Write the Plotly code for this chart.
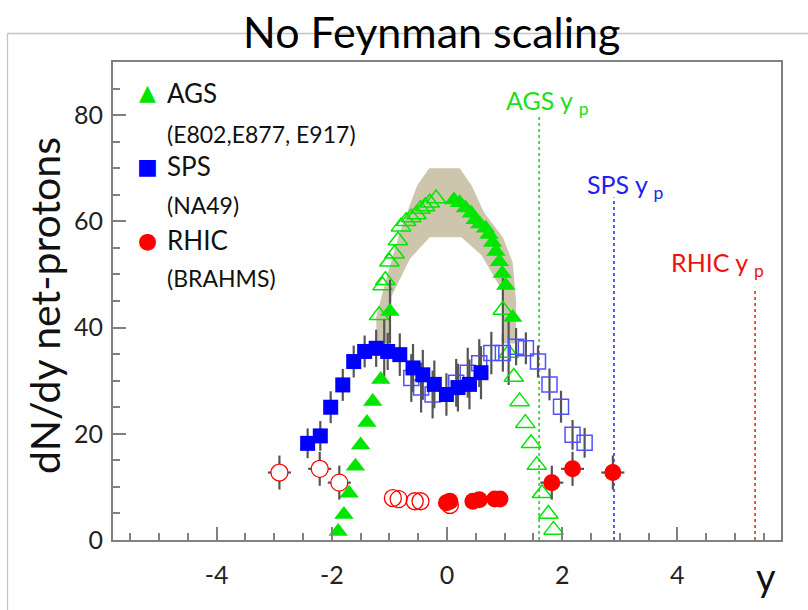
import plotly.graph_objects as go

# ---------------- data ----------------
# AGS (E802, E877, E917) net-proton dN/dy
ags_filled_x = [-1.89, -1.79, -1.70, -1.59, -1.50, -1.39, -1.29, -1.15, -1.09, -0.99,
                0.12, 0.22, 0.32, 0.42, 0.49, 0.57, 0.67, 0.73, 0.79, 0.85, 0.91, 0.96, 1.02, 1.14]
ags_filled_y = [1.6, 4.8, 8.8, 13.9, 17.9, 22.1, 26.1, 30.2, 35.5, 43.0,
                64.0, 63.5, 62.5, 61.5, 60.3, 59.5, 58.7, 57.5, 56.0, 54.3, 52.4, 50.2, 47.9, 41.9]
ags_filled_err = [0, 0, 0, 0, 0, 0, 0, 0, 6.0, 6.0,
                  0, 0, 0, 0, 0, 0, 0, 0, 0, 0, 0, 0, 0, 0]

ags_open_x = [-1.18, -1.12, -1.07, -1.00, -0.91, -0.85, -0.80, -0.71, -0.62, -0.53, -0.46, -0.38, -0.30, -0.19,
              0.97, 1.07, 1.16, 1.26, 1.36, 1.46, 1.56, 1.65, 1.76, 1.85]
ags_open_y = [42.3, 47.9, 48.9, 52.4, 53.9, 56.4, 59.0, 60.0, 60.7, 61.3, 62.3, 62.8, 63.5, 64.3,
              43.3, 35.2, 30.7, 26.1, 22.0, 18.2, 14.1, 8.8, 4.9, 1.9]
ags_open_err = [0, 0, 0, 0, 0, 0, 0, 0, 0, 0, 0, 0, 0, 0,
                6.0, 6.0, 0, 0, 0, 0, 0, 0, 0, 0]

# AGS systematic band (outline)
band_x = [-1.22, -1.23, -1.02, -0.82, -0.52, -0.31, 0.22, 0.43, 0.64, 0.97, 1.14, 1.20, 1.20,
          0.97, 0.97, 0.60, 0.25, -0.30, -0.64, -0.96, -1.00, -1.22]
band_y = [37.0, 42.0, 50.5, 58.0, 66.7, 70.0, 70.0, 66.7, 61.7, 57.0, 52.3, 45.0, 37.0,
          37.0, 46.7, 53.6, 57.0, 57.0, 53.0, 46.0, 37.0, 37.0]

# SPS (NA49)
sps_filled_x = [-2.42, -2.20, -2.02, -1.81, -1.62, -1.43, -1.23, -1.03, -0.82, -0.59, -0.42, -0.22,
                -0.01, 0.19, 0.39, 0.59]
sps_filled_y = [18.2, 19.6, 25.0, 29.2, 33.6, 35.5, 36.1, 35.5, 34.9, 32.4, 31.1, 29.3,
                27.4, 28.7, 29.3, 31.5]
sps_filled_err = [2.8, 2.8, 3.0, 3.0, 3.0, 3.0, 3.5, 3.5, 4.0, 4.5, 4.7, 4.5,
                  4.0, 4.5, 4.7, 5.0]

sps_open_x = [-0.62, -0.45, -0.25, 0.16, 0.36, 0.56, 0.77, 0.97, 1.20, 1.37, 1.58, 1.78, 1.98, 2.18, 2.39]
sps_open_y = [30.5, 28.7, 27.4, 29.6, 31.5, 33.3, 35.2, 35.2, 36.4, 36.1, 33.6, 29.3, 25.1, 19.8, 18.3]
sps_open_err = [4.5, 4.7, 4.5, 4.5, 4.7, 4.5, 4.0, 3.5, 3.5, 3.0, 3.0, 3.0, 3.0, 2.8, 2.8]

# RHIC (BRAHMS)
rhic_filled_x = [-0.01, 0.05, 0.45, 0.56, 0.83, 0.92, 1.82, 2.18, 2.88]
rhic_filled_y = [7.0, 7.3, 7.3, 7.6, 7.7, 7.7, 10.8, 13.4, 12.7]
rhic_filled_err = [1.0, 1.0, 1.0, 1.0, 1.0, 1.0, 3.2, 3.2, 3.2]
rhic_filled_xerr = [0, 0, 0, 0, 0, 0, 0.2, 0.2, 0.2]

rhic_open_x = [-2.91, -2.21, -1.87, -0.94, -0.84, -0.56, -0.46, 0.05]
rhic_open_y = [12.7, 13.4, 10.8, 7.9, 7.7, 7.3, 7.3, 6.6]
rhic_open_err = [3.2, 3.2, 3.2, 0, 0, 0, 0, 0]
rhic_open_xerr = [0.2, 0.2, 0.2, 0, 0, 0, 0, 0]

# beam rapidities
beam_names = ["AGS", "SPS", "RHIC"]
beam_y = [1.6, 2.9, 5.35]
beam_line_top = [80.0, 64.5, 47.5]

x_tick_vals = [-4, -2, 0, 2, 4]
y_tick_vals = [0, 20, 40, 60, 80]

# ---------------- styling ----------------
GREEN = "#00e600"
BLUE = "#0000ff"
BLUE_OPEN = "#5050ff"
RED = "#ff0000"
ERR = "#555555"
FONT = "Lato"

W, H = 808, 610
ML, MR, MT, MB = 113, 27, 62, 70
PW, PH = W - ML - MR, H - MT - MB


def PX(px):
    return (px - ML) / PW


def PY(py):
    return (H - MB - py) / PH


fig = go.Figure()

# band
fig.add_trace(go.Scatter(x=band_x, y=band_y, fill="toself", mode="lines",
                         line=dict(width=0, color="rgba(0,0,0,0)"),
                         fillcolor="#cec5ad", hoverinfo="skip", showlegend=False))


def err(arr, show=True):
    return dict(type="data", array=arr, visible=show, color=ERR, thickness=2.2, width=0)


# AGS
fig.add_trace(go.Scatter(x=ags_open_x, y=ags_open_y, mode="markers",
                         error_y=err(ags_open_err),
                         marker=dict(symbol="triangle-up-open", size=17, color=GREEN,
                                     line=dict(width=1.5, color=GREEN)),
                         showlegend=False))
fig.add_trace(go.Scatter(x=ags_filled_x, y=ags_filled_y, mode="markers",
                         error_y=err(ags_filled_err),
                         marker=dict(symbol="triangle-up", size=17, color=GREEN,
                                     line=dict(width=0)),
                         showlegend=False))

# SPS
fig.add_trace(go.Scatter(x=sps_open_x, y=sps_open_y, mode="markers",
                         error_y=err(sps_open_err),
                         marker=dict(symbol="square-open", size=15, color=BLUE_OPEN,
                                     line=dict(width=1.5, color=BLUE_OPEN)),
                         showlegend=False))
fig.add_trace(go.Scatter(x=sps_filled_x, y=sps_filled_y, mode="markers",
                         error_y=err(sps_filled_err),
                         marker=dict(symbol="square", size=15, color=BLUE, line=dict(width=0)),
                         showlegend=False))

# RHIC
open_fill = ["white" if e > 0 else "rgba(255,255,255,0)" for e in rhic_open_err]
fig.add_trace(go.Scatter(x=rhic_open_x, y=rhic_open_y, mode="markers",
                         error_y=err(rhic_open_err), error_x=err(rhic_open_xerr),
                         marker=dict(symbol="circle", size=17, color=open_fill,
                                     line=dict(width=1.3, color=RED)),
                         showlegend=False))
fig.add_trace(go.Scatter(x=rhic_filled_x, y=rhic_filled_y, mode="markers",
                         error_y=err(rhic_filled_err), error_x=err(rhic_filled_xerr),
                         marker=dict(symbol="circle", size=17, color=RED, line=dict(width=0)),
                         showlegend=False))

# beam rapidity lines + labels
line_cols = ["#33dd33", "#4848f0", "#f04040"]
label_cols = ["#22dd22", "#2222ee", "#ee1111"]
label_pos = [(504, 102), (585, 186), (669, 264)]
shapes = []
annotations = []
for name, yb, top, lc, tc, (lx, ly) in zip(beam_names, beam_y, beam_line_top, line_cols, label_cols, label_pos):
    shapes.append(dict(type="line", xref="x", yref="y", x0=yb, x1=yb, y0=0, y1=top,
                       line=dict(color=lc, width=1.8, dash="dot"), layer="below"))
    annotations.append(dict(xref="paper", yref="paper", x=PX(lx), y=PY(ly),
                            xanchor="left", yanchor="middle", showarrow=False,
                            text=f"{name} y <sub>p</sub>",
                            font=dict(family=FONT, size=25, color=tc)))

# outer slide frame
shapes.append(dict(type="line", xref="paper", yref="paper", x0=PX(7.5), x1=PX(808), y0=PY(33.5), y1=PY(33.5),
                   line=dict(color="#c4c4c4", width=1.3), layer="below"))
shapes.append(dict(type="line", xref="paper", yref="paper", x0=PX(7.5), x1=PX(7.5), y0=PY(33.5), y1=PY(612),
                   line=dict(color="#c4c4c4", width=1.3), layer="below"))

# title
annotations.append(dict(xref="paper", yref="paper", x=PX(431), y=PY(31), xanchor="center", yanchor="middle",
                        showarrow=False, text="No Feynman scaling",
                        font=dict(family=FONT, size=43, color="black")))
# axis titles
annotations.append(dict(xref="paper", yref="paper", x=PX(44), y=PY(306), xanchor="center", yanchor="middle",
                        showarrow=False, text="dN/dy net-protons", textangle=-90,
                        font=dict(family=FONT, size=41, color="#111")))
annotations.append(dict(xref="paper", yref="paper", x=PX(766), y=PY(576), xanchor="center", yanchor="middle",
                        showarrow=False, text="y",
                        font=dict(family=FONT, size=38, color="#111")))

# legend (as text)
legend_rows = [("▲", GREEN, "AGS", "(E802,E877, E917)", 93, 134),
               ("■", BLUE, "SPS", "(NA49)", 166, 205),
               ("●", RED, "RHIC", "(BRAHMS)", 240, 278)]
for sym, col, main, sub, y1, y2 in legend_rows:
    annotations.append(dict(xref="paper", yref="paper", x=PX(147), y=PY(y1), xanchor="center", yanchor="middle",
                            showarrow=False, text=sym, font=dict(family="DejaVu Sans", size=22, color=col)))
    annotations.append(dict(xref="paper", yref="paper", x=PX(165), y=PY(y1), xanchor="left", yanchor="middle",
                            showarrow=False, text=main, font=dict(family=FONT, size=26, color="#111")))
    annotations.append(dict(xref="paper", yref="paper", x=PX(165), y=PY(y2), xanchor="left", yanchor="middle",
                            showarrow=False, text=sub, font=dict(family=FONT, size=23, color="#111")))

axis_common = dict(showgrid=False, zeroline=False, showline=True, linecolor="#808080", linewidth=2,
                   mirror=True, ticks="inside", tickcolor="#808080", tickwidth=1.5, ticklen=13,
                   tickfont=dict(family=FONT, size=25, color="#222"))

fig.update_layout(
    width=W, height=H, autosize=False,
    margin=dict(l=ML, r=MR, t=MT, b=MB, pad=0),
    paper_bgcolor="white", plot_bgcolor="white",
    showlegend=False,
    xaxis=dict(range=[-5.8, 5.8], tickmode="array", tickvals=x_tick_vals,
               ticktext=[str(v) for v in x_tick_vals],
               minor=dict(tickmode="linear", tick0=0, dtick=0.5, ticks="inside", ticklen=7,
                          tickcolor="#808080", tickwidth=1.5),
               ticklabelstandoff=12, **axis_common),
    yaxis=dict(range=[0, 90], tickmode="array", tickvals=y_tick_vals,
               ticktext=[str(v) for v in y_tick_vals],
               minor=dict(tickmode="linear", tick0=0, dtick=5, ticks="inside", ticklen=7,
                          tickcolor="#808080", tickwidth=1.5),
               ticklabelstandoff=3, **axis_common),
    shapes=shapes, annotations=annotations,
)

fig.write_html("out.html")
